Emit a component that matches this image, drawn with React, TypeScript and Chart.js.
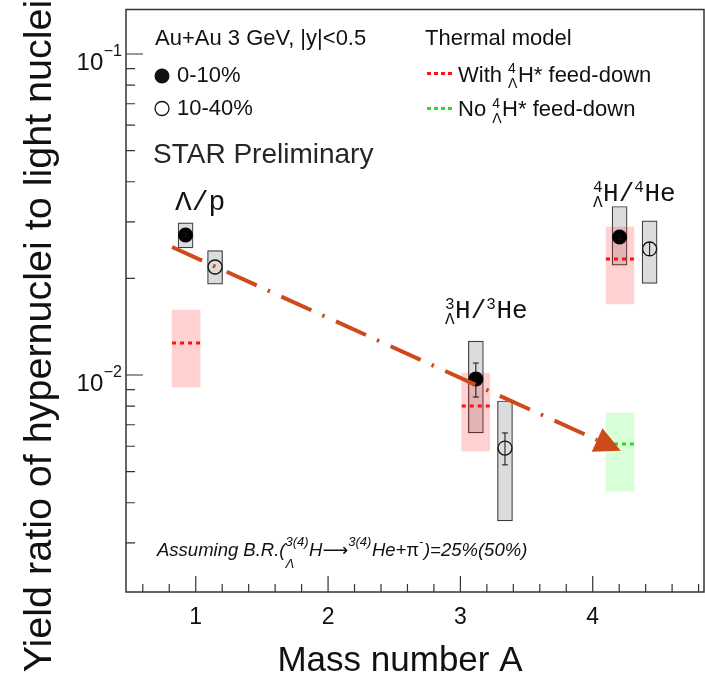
import React, { useEffect, useRef } from 'react';
import { Chart, registerables } from 'chart.js';

Chart.register(...registerables);

// ---------------- data ----------------
const X_LIMITS = [0.473, 4.841];
const Y_LIMITS = [0.002109, 0.1376];

const X_MAJOR_TICKS = [1, 2, 3, 4];
const X_TICK_LABELS = ['1', '2', '3', '4'];
const X_MINOR_TICKS = [0.6, 0.8, 1.2, 1.4, 1.6, 1.8, 2.2, 2.4, 2.6, 2.8, 3.2, 3.4, 3.6, 3.8, 4.2, 4.4, 4.6, 4.8];
const Y_MAJOR_TICKS = [0.01, 0.1];
const Y_TICK_EXPONENTS = ['\u22122', '\u22121'];
const Y_MINOR_TICKS = [0.003, 0.004, 0.005, 0.006, 0.007, 0.008, 0.009, 0.02, 0.03, 0.04, 0.05, 0.06, 0.07, 0.08, 0.09];

// 0-10% centrality
const A_CENTRAL = [0.923, 3.117, 4.203];
const RATIO_CENTRAL = [0.0273, 0.00972, 0.0269];
const STAT_LO_CENTRAL = [0.0269, 0.00854, 0.0265];
const STAT_HI_CENTRAL = [0.0277, 0.0109, 0.0273];
const SYS_LO_CENTRAL = [0.0249, 0.0066, 0.022];
const SYS_HI_CENTRAL = [0.0298, 0.01276, 0.0335];

// 10-40% centrality
const A_PERIPH = [1.146, 3.337, 4.43];
const RATIO_PERIPH = [0.0217, 0.00592, 0.0247];
const STAT_LO_PERIPH = [0.0217, 0.00525, 0.02357];
const STAT_HI_PERIPH = [0.0217, 0.0066, 0.02586];
const SYS_LO_PERIPH = [0.0192, 0.00351, 0.0193];
const SYS_HI_PERIPH = [0.0244, 0.0083, 0.0302];

// Thermal model, with 4ΛH* feed-down
const A_MODEL_WITH = [0.927, 3.116, 4.206];
const MODEL_WITH = [0.01258, 0.00801, 0.02298];
const MODEL_WITH_LO = [0.00918, 0.0058, 0.01664];
const MODEL_WITH_HI = [0.01594, 0.01014, 0.02891];

// Thermal model, no 4ΛH* feed-down
const A_MODEL_NO = [4.206];
const MODEL_NO = [0.0061];
const MODEL_NO_LO = [0.00435];
const MODEL_NO_HI = [0.00761];

// trend arrow (start, tip)
const TREND_A = [0.821, 4.212];
const TREND_RATIO = [0.02505, 0.00581];

// ---------------- styling ----------------
const SANS = '"Liberation Sans", Arial, Helvetica, sans-serif';
const MONO = '"Liberation Mono", "Courier New", monospace';
const ARROW_COLOR = '#cf4a1a';
const TEXT = '#111111';

type Seg = { t?: string; sup?: string; sub?: string; fam?: string; st?: string; sz?: number };
type RichOpts = { size: number; small: number; family: string; style?: string; supDy: number; subDy: number };

function drawRich(ctx: CanvasRenderingContext2D, x: number, y: number, segs: Seg[], o: RichOpts) {
  ctx.textAlign = 'left';
  ctx.textBaseline = 'middle';
  let cx = x;
  for (const s of segs) {
    const f = (sz: number) => `${s.st ?? o.style ?? 'normal'} ${sz}px ${s.fam ?? o.family}`;
    if (s.t !== undefined) {
      ctx.font = f(s.sz ?? o.size);
      ctx.fillText(s.t, cx, y);
      cx += ctx.measureText(s.t).width;
    } else {
      ctx.font = f(s.sz ?? o.small);
      let w = 0;
      if (s.sup) {
        ctx.fillText(s.sup, cx, y + o.supDy);
        w = Math.max(w, ctx.measureText(s.sup).width);
      }
      if (s.sub) {
        ctx.fillText(s.sub, cx, y + o.subDy);
        w = Math.max(w, ctx.measureText(s.sub).width);
      }
      cx += w + 0.5;
    }
  }
}

const pts = (xs: number[], ys: number[]) => xs.map((x, i) => ({ x, y: ys[i] }));
const ranges = (xs: number[], lo: number[], hi: number[]) => xs.map((x, i) => ({ x, y: [lo[i], hi[i]] }));

const decorPlugin = {
  id: 'decor',
  afterDatasetDraw(chart: any, args: any) {
    const ds = chart.data.datasets[args.index];
    const ctx: CanvasRenderingContext2D = chart.ctx;
    const ys = chart.scales.y;
    const xs = chart.scales.x;
    if (ds.kind === 'model') {
      const vals: number[] = ds.kind2 === 'with' ? MODEL_WITH : MODEL_NO;
      ctx.save();
      ctx.strokeStyle = ds.lineColor;
      ctx.lineWidth = 3;
      ctx.setLineDash([4, 4]);
      args.meta.data.forEach((el: any, i: number) => {
        const y = ys.getPixelForValue(vals[i]);
        ctx.beginPath();
        ctx.moveTo(el.x - el.width / 2, y);
        ctx.lineTo(el.x + el.width / 2, y);
        ctx.stroke();
      });
      ctx.restore();
    }
    if (ds.kind === 'points') {
      const lo: number[] = ds.kind2 === 'central' ? STAT_LO_CENTRAL : STAT_LO_PERIPH;
      const hi: number[] = ds.kind2 === 'central' ? STAT_HI_CENTRAL : STAT_HI_PERIPH;
      const ax: number[] = ds.kind2 === 'central' ? A_CENTRAL : A_PERIPH;
      ctx.save();
      ctx.strokeStyle = '#111';
      ctx.lineWidth = 1;
      ax.forEach((a, i) => {
        if (!(hi[i] > lo[i])) return;
        const x = xs.getPixelForValue(a);
        const y0 = ys.getPixelForValue(lo[i]);
        const y1 = ys.getPixelForValue(hi[i]);
        ctx.beginPath();
        ctx.moveTo(x, y0);
        ctx.lineTo(x, y1);
        ctx.moveTo(x - 3, y0);
        ctx.lineTo(x + 3, y0);
        ctx.moveTo(x - 3, y1);
        ctx.lineTo(x + 3, y1);
        ctx.stroke();
      });
      ctx.restore();
    }
  },
  afterDatasetsDraw(chart: any) {
    const ctx: CanvasRenderingContext2D = chart.ctx;
    const xs = chart.scales.x;
    const ys = chart.scales.y;
    // trend arrow
    const x0 = xs.getPixelForValue(TREND_A[0]);
    const y0 = ys.getPixelForValue(TREND_RATIO[0]);
    const x1 = xs.getPixelForValue(TREND_A[1]);
    const y1 = ys.getPixelForValue(TREND_RATIO[1]);
    const L = Math.hypot(x1 - x0, y1 - y0);
    const ux = (x1 - x0) / L;
    const uy = (y1 - y0) / L;
    const headLen = 26;
    const headW = 26;
    const bx = x1 - ux * headLen;
    const by = y1 - uy * headLen;
    ctx.save();
    ctx.strokeStyle = ARROW_COLOR;
    ctx.fillStyle = ARROW_COLOR;
    ctx.lineWidth = 4;
    ctx.lineCap = 'butt';
    ctx.setLineDash([33, 12, 2.5, 12.5]);
    ctx.beginPath();
    ctx.moveTo(x0, y0);
    ctx.lineTo(bx, by);
    ctx.stroke();
    ctx.setLineDash([]);
    ctx.beginPath();
    ctx.moveTo(x1, y1);
    ctx.lineTo(bx - (uy * headW) / 2, by + (ux * headW) / 2);
    ctx.lineTo(bx + (uy * headW) / 2, by - (ux * headW) / 2);
    ctx.closePath();
    ctx.fill();
    ctx.restore();
  },
  afterDraw(chart: any) {
    const ctx: CanvasRenderingContext2D = chart.ctx;
    const { left, right, top, bottom } = chart.chartArea;
    const xs = chart.scales.x;
    const ys = chart.scales.y;
    ctx.save();
    // frame
    ctx.strokeStyle = '#333';
    ctx.lineWidth = 1.5;
    ctx.strokeRect(left, top, right - left, bottom - top);
    // ticks
    ctx.lineWidth = 1.2;
    ctx.beginPath();
    Y_MAJOR_TICKS.forEach((v) => {
      const y = ys.getPixelForValue(v);
      ctx.moveTo(left, y);
      ctx.lineTo(left + 17, y);
    });
    Y_MINOR_TICKS.forEach((v) => {
      const y = ys.getPixelForValue(v);
      ctx.moveTo(left, y);
      ctx.lineTo(left + 9, y);
    });
    X_MAJOR_TICKS.forEach((v) => {
      const x = xs.getPixelForValue(v);
      ctx.moveTo(x, bottom);
      ctx.lineTo(x, bottom - 16);
    });
    X_MINOR_TICKS.forEach((v) => {
      const x = xs.getPixelForValue(v);
      ctx.moveTo(x, bottom);
      ctx.lineTo(x, bottom - 8);
    });
    ctx.stroke();

    ctx.fillStyle = TEXT;
    // x tick labels
    ctx.font = `23px ${SANS}`;
    ctx.textAlign = 'center';
    ctx.textBaseline = 'middle';
    X_MAJOR_TICKS.forEach((v, i) => {
      ctx.fillText(X_TICK_LABELS[i], xs.getPixelForValue(v), 618);
    });
    // y tick labels 10^n
    Y_MAJOR_TICKS.forEach((v, i) => {
      const y = ys.getPixelForValue(v);
      ctx.textAlign = 'right';
      ctx.textBaseline = 'middle';
      ctx.font = `16px ${SANS}`;
      const exp = Y_TICK_EXPONENTS[i];
      const ew = ctx.measureText(exp).width;
      ctx.fillText(exp, 122, y - 2);
      ctx.font = `24px ${SANS}`;
      ctx.fillText('10', 122 - ew - 0.5, y + 9);
    });
    // axis titles
    ctx.font = `35px ${SANS}`;
    ctx.textAlign = 'center';
    ctx.textBaseline = 'middle';
    ctx.fillText('Mass number A', 400, 661);
    ctx.save();
    ctx.translate(51, 336);
    ctx.rotate(-Math.PI / 2);
    ctx.font = `39.5px ${SANS}`;
    ctx.textAlign = 'center';
    ctx.textBaseline = 'alphabetic';
    ctx.fillText('Yield ratio of hypernuclei to light nuclei', 0, 0);
    ctx.restore();

    // legend (left)
    ctx.textAlign = 'left';
    ctx.textBaseline = 'middle';
    ctx.font = `22px ${SANS}`;
    ctx.fillText('Au+Au 3 GeV, |y|<0.5', 155, 39);
    ctx.beginPath();
    ctx.arc(162, 76, 7.5, 0, Math.PI * 2);
    ctx.fill();
    ctx.fillText('0-10%', 177, 76);
    ctx.beginPath();
    ctx.lineWidth = 1.3;
    ctx.strokeStyle = '#111';
    ctx.arc(162, 108.5, 7, 0, Math.PI * 2);
    ctx.stroke();
    ctx.fillText('10-40%', 177, 109);
    ctx.fillStyle = '#262626';
    ctx.font = `28px ${SANS}`;
    ctx.fillText('STAR Preliminary', 153, 155);
    ctx.fillStyle = TEXT;

    // legend (right)
    ctx.font = `22px ${SANS}`;
    ctx.fillText('Thermal model', 425, 39);
    ctx.lineWidth = 3;
    ctx.setLineDash([4, 3]);
    ctx.strokeStyle = '#ff1010';
    ctx.beginPath();
    ctx.moveTo(427, 73.5);
    ctx.lineTo(455, 73.5);
    ctx.stroke();
    ctx.strokeStyle = '#20e020';
    ctx.beginPath();
    ctx.moveTo(427, 108.5);
    ctx.lineTo(455, 108.5);
    ctx.stroke();
    ctx.setLineDash([]);
    const legOpts = { size: 22, small: 14, family: SANS, supDy: -6, subDy: 9 };
    drawRich(ctx, 458, 75.5, [{ t: 'With ' }, { sup: '4', sub: '\u039B' }, { t: 'H* feed-down' }], legOpts);
    drawRich(ctx, 458, 110, [{ t: 'No ' }, { sup: '4', sub: '\u039B' }, { t: 'H* feed-down' }], legOpts);

    // nuclei labels
    const monoOpts = { size: 26, small: 16, family: MONO, supDy: -6, subDy: 9 };
    drawRich(ctx, 175, 203, [{ t: '\u039B/p', sz: 28 }], monoOpts);
    drawRich(ctx, 445, 311, [{ sup: '3', sub: '\u039B' }, { t: 'H/' }, { sup: '3' }, { t: 'He' }], monoOpts);
    drawRich(ctx, 593, 194, [{ sup: '4', sub: '\u039B' }, { t: 'H/' }, { sup: '4' }, { t: 'He' }], monoOpts);

    // branching ratio note
    drawRich(
      ctx,
      157,
      551,
      [
        { t: 'Assuming B.R.(' },
        { sup: '3(4)', sub: '\u039B' },
        { t: 'H' },
        { t: '\u27F6', fam: '"DejaVu Sans", sans-serif', st: 'normal', sz: 18 },
        { sup: '3(4)' },
        { t: 'He+' },
        { t: '\u03C0', st: 'normal' },
        { sup: '-' },
        { t: ')=25%(50%)' },
      ],
      { size: 18.5, small: 13, family: SANS, style: 'italic', supDy: -9, subDy: 13 }
    );
    ctx.restore();
  },
};

export default function App() {
  const ref = useRef<HTMLCanvasElement>(null);
  useEffect(() => {
    const canvas = ref.current!;
    const chart = new Chart(canvas, {
      type: 'scatter',
      data: {
        datasets: [
          {
            type: 'bar',
            label: '0-10% sys.',
            data: ranges(A_CENTRAL, SYS_LO_CENTRAL, SYS_HI_CENTRAL),
            stack: 'boxes',
            barThickness: 15,
            backgroundColor: '#dcdcdc',
            borderColor: '#3c3c3c',
            borderWidth: 1.2,
            borderSkipped: false,
            order: 7,
          } as any,
          {
            type: 'bar',
            label: '10-40% sys.',
            data: ranges(A_PERIPH, SYS_LO_PERIPH, SYS_HI_PERIPH),
            stack: 'boxes',
            barThickness: 15,
            backgroundColor: '#dcdcdc',
            borderColor: '#3c3c3c',
            borderWidth: 1.2,
            borderSkipped: false,
            order: 6,
          } as any,
          {
            type: 'bar',
            label: 'With feed-down',
            kind: 'model',
            kind2: 'with',
            lineColor: '#ff1010',
            data: ranges(A_MODEL_WITH, MODEL_WITH_LO, MODEL_WITH_HI),
            stack: 'boxes',
            barThickness: 28,
            backgroundColor: 'rgba(255,0,0,0.18)',
            borderWidth: 0,
            borderSkipped: false,
            order: 5,
          } as any,
          {
            type: 'bar',
            label: 'No feed-down',
            kind: 'model',
            kind2: 'no',
            lineColor: '#20e020',
            data: ranges(A_MODEL_NO, MODEL_NO_LO, MODEL_NO_HI),
            stack: 'boxes',
            barThickness: 28,
            backgroundColor: 'rgba(0,255,0,0.15)',
            borderWidth: 0,
            borderSkipped: false,
            order: 4,
          } as any,
          {
            type: 'scatter',
            label: '0-10%',
            kind: 'points',
            kind2: 'central',
            data: pts(A_CENTRAL, RATIO_CENTRAL),
            pointRadius: 7.5,
            pointBackgroundColor: '#000',
            pointBorderColor: '#000',
            pointBorderWidth: 0,
            order: 2,
          } as any,
          {
            type: 'scatter',
            label: '10-40%',
            kind: 'points',
            kind2: 'periph',
            data: pts(A_PERIPH, RATIO_PERIPH),
            pointRadius: 7,
            pointBackgroundColor: 'rgba(0,0,0,0)',
            pointBorderColor: '#111',
            pointBorderWidth: 1.3,
            order: 1,
          } as any,
        ],
      },
      options: {
        animation: false,
        responsive: false,
        devicePixelRatio: 1,
        events: [],
        layout: { autoPadding: false, padding: { left: 0, right: 1, top: 9.5, bottom: 0 } },
        plugins: {
          legend: { display: false },
          tooltip: { enabled: false },
          title: { display: false },
        },
        scales: {
          x: {
            type: 'linear',
            min: X_LIMITS[0],
            max: X_LIMITS[1],
            offset: false,
            grid: { display: false, drawTicks: false },
            border: { display: false },
            ticks: { display: false },
            afterFit: (s: any) => {
              s.height = 87;
            },
          },
          y: {
            type: 'logarithmic',
            min: Y_LIMITS[0],
            max: Y_LIMITS[1],
            stacked: false,
            grid: { display: false, drawTicks: false },
            border: { display: false },
            ticks: { display: false },
            afterFit: (s: any) => {
              s.width = 126;
            },
          },
        },
      } as any,
      plugins: [decorPlugin],
    });
    return () => chart.destroy();
  }, []);
  return (
    <div style={{ position: 'fixed', left: 0, top: 0, width: 705, height: 679, background: '#fff' }}>
      <canvas ref={ref} width={705} height={679} style={{ display: 'block' }} />
    </div>
  );
}
